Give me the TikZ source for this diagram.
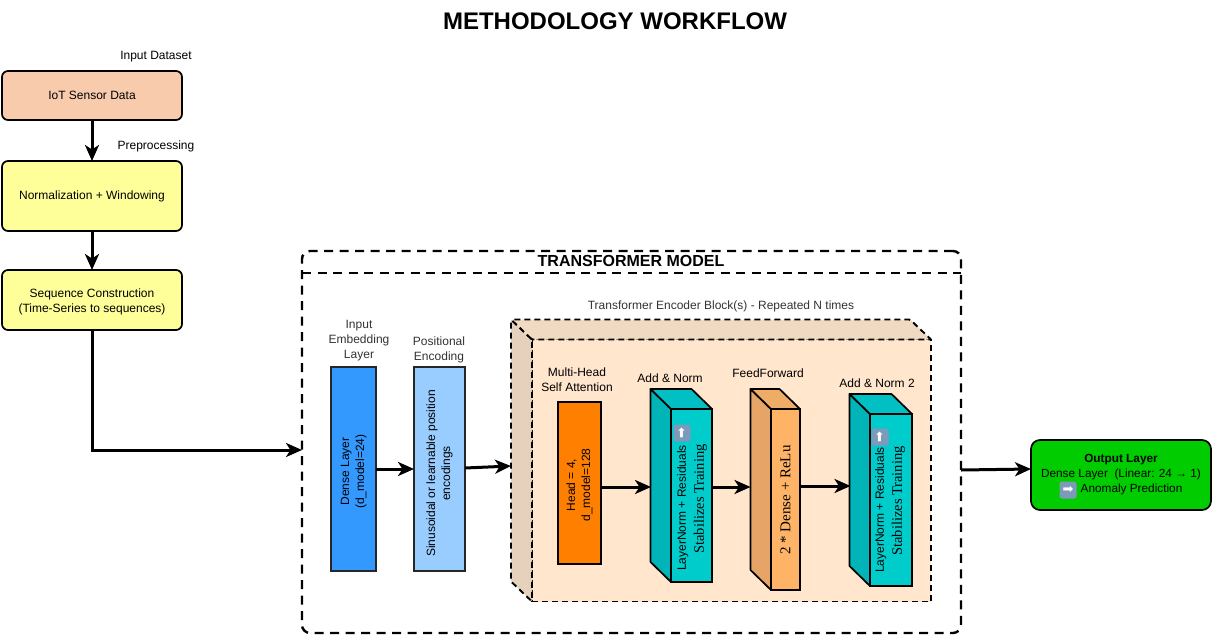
\documentclass[tikz,border=0pt]{standalone}
\usepackage{fontspec}
\setmainfont{Liberation Sans}
\newfontfamily\timesfont{Liberation Serif}
\newfontfamily\symbolfont{DejaVu Sans}
\usetikzlibrary{positioning,arrows.meta}

\definecolor{inputpeach}{HTML}{F8CBAD}
\definecolor{prepyellow}{HTML}{FFFF99}
\definecolor{densedark}{HTML}{3399FF}
\definecolor{poslight}{HTML}{99CCFF}
\definecolor{headorange}{HTML}{FF8000}
\definecolor{blockfront}{HTML}{FFE6CC}
\definecolor{blockside}{HTML}{E6D2BC}
\definecolor{blocktop}{HTML}{F0DAC2}
\definecolor{tealfront}{HTML}{00CCCC}
\definecolor{tealside}{HTML}{00B4B8}
\definecolor{tealtop}{HTML}{00C0C4}
\definecolor{ffront}{HTML}{FFB366}
\definecolor{ffside}{HTML}{E6A566}
\definecolor{fftop}{HTML}{EFAC66}
\definecolor{outgreen}{HTML}{00CC00}
\definecolor{iconblue}{HTML}{7D9ABB}
\definecolor{greylabel}{HTML}{333333}

\newcommand{\vlabel}[2][0pt]{\rotatebox{90}{\begin{tabular}{@{}c@{}}#2\end{tabular}\hspace*{#1}}}

\begin{document}
\begin{tikzpicture}[
  x=1pt,y=-1pt,
  every node/.style={outer sep=0pt,inner sep=0pt,font=\fontsize{12}{15}\selectfont},
  stagebox/.style={draw,line width=1.7pt,rounded corners=6pt,minimum width=180pt,align=center},
  layerbox/.style={draw=black!85,line width=1.7pt,minimum height=204pt},
  slab/.style={draw,line width=1.7pt},
  caption/.style={align=center,text=greylabel},
  tag/.style={align=center},
  icon/.style={fill=iconblue,rounded corners=2.5pt,minimum size=17pt,text=white,font=\symbolfont\fontsize{13}{13}\selectfont},
  flow/.style={line width=3pt,-{Stealth[length=16pt,width=14pt,inset=4.5pt]}},
  modelline/.style={line width=2.4pt,dash pattern=on 9pt off 6.5pt},
  blockline/.style={line width=1.9pt,dash pattern=on 6pt off 4pt},
]
  \useasboundingbox (0,0) rectangle (1212,635);

  % Title
  \node[font=\bfseries\fontsize{24}{28}\selectfont] (title) at (615,21) {METHODOLOGY WORKFLOW};

  % Data preparation
  \node[tag] (inputtag) at (156,56.5) {Input Dataset};
  \node[stagebox,fill=inputpeach,minimum height=49pt] (iot) at (92,95.5) {IoT Sensor Data};
  \node[tag] (preptag) at (156,146) {Preprocessing};
  \node[stagebox,fill=prepyellow,minimum height=70pt] (norm) at (92,196) {Normalization + Windowing};
  \node[stagebox,fill=prepyellow,minimum height=60pt] (seq) at (92,300) {\rule{0pt}{13pt}Sequence Construction\\(Time-Series to sequences)};

  % Transformer frame
  \node[draw,modelline,rounded corners=8pt,minimum width=659pt,minimum height=382pt] (model) at (631.5,442) {};
  \draw[modelline] (302,273) coordinate (dividerL) -- (961,273) coordinate (dividerR);
  \node[font=\bfseries\fontsize{16}{18}\selectfont] (modeltitle) at (631,261) {TRANSFORMER MODEL};
  \coordinate (modelin) at (302,450);
  \coordinate (modelout) at (961,470);

  % Input layers
  \node[caption] (embedtag) at (359,341) {Input\\Embedding\\Layer};
  \node[caption] (postag) at (439,350) {Positional\\Encoding};
  \node[layerbox,fill=densedark,minimum width=45pt] (dense) at (353.5,469) {\vlabel[5pt]{Dense Layer\\(d\_model=24)}};
  \node[layerbox,fill=poslight,minimum width=51pt] (pos) at (439.5,469) {\vlabel[9pt]{Sinusoidal or learnable position\\encodings}};

  % Encoder block
  \node[caption] (blocktag) at (721,306) {Transformer Encoder Block(s) - Repeated N times};
  \node[blockline,draw,fill=blockfront,minimum width=399pt,minimum height=262pt] (block) at (731.5,470.5) {};
  \draw[blockline,fill=blockside,rounded corners=1pt] (block.north west) -- ++(-21,-20) -- ++(0,262) -- (block.south west) -- cycle;
  \draw[blockline,fill=blocktop,rounded corners=1pt] (block.north west) -- ++(-21,-20) -- ++(399,0) -- (block.north east) -- cycle;
  \coordinate (blockin) at (511,466);

  \node[tag] (headtag) at (577,380) {Multi-Head\\Self Attention};
  \node[tag] (addtag) at (670,378) {Add \& Norm};
  \node[tag] (fftag) at (768,373) {FeedForward};
  \node[tag] (add2tag) at (877,383) {Add \& Norm 2};

  \node[slab,fill=headorange,minimum width=43pt,minimum height=162pt] (head) at (579.5,483) {\vlabel[4pt]{Head = 4,\\d\_model=128}};
  \node[slab,fill=tealfront,minimum width=41pt,minimum height=173pt] (addnorm) at (691.5,495.5) {};
  \node[slab,fill=ffront,minimum width=29pt,minimum height=181pt] (ff) at (785.5,499.5) {};
  \node[slab,fill=tealfront,minimum width=42pt,minimum height=172pt] (addnormb) at (891,500) {};

  % Slab faces
  \foreach \slabname/\sidecol/\topcol in {addnorm/tealside/tealtop,ff/ffside/fftop,addnormb/tealside/tealtop} {
    \draw[slab,line join=round,fill=\sidecol] (\slabname.north west) -- ++(-20.5,-20) -- ([xshift=-20.5pt,yshift=20pt]\slabname.south west) -- (\slabname.south west) -- cycle;
    \draw[slab,line join=round,fill=\topcol] (\slabname.north west) -- ++(-20.5,-20) -- ([xshift=-20.5pt,yshift=20pt]\slabname.north east) -- (\slabname.north east) -- cycle;
  }
  \coordinate (addnormin) at (651,487);
  \coordinate (ffin) at (750.5,487);
  \coordinate (addnormbin) at (850.5,486);

  % Slab texts
  \node[rotate=90,align=center] (addnormtxt) at (692,499) {LayerNorm + Residuals\hspace*{18pt}\\[3pt]{\timesfont\fontsize{14.5}{15}\selectfont Stabilizes Training}};
  \node[icon,rotate=90] (addnormicon) at (682,433) {➡};
  \node[rotate=90,font=\timesfont\fontsize{15}{15}\selectfont] (fftxt) at (785.5,500) {2 * Dense + ReLu};
  \node[rotate=90,align=center] (addnormbtxt) at (890,501) {LayerNorm + Residuals\hspace*{18pt}\\[3pt]{\timesfont\fontsize{14.5}{15}\selectfont Stabilizes Training}};
  \node[icon,rotate=90] (addnormbicon) at (880,437) {➡};

  % Output
  \node[stagebox,fill=outgreen,rounded corners=9pt,minimum width=180pt,minimum height=70pt,font=\fontsize{11.8}{15}\selectfont] (outlayer) at (1121,475) {\textbf{Output Layer}\\Dense Layer\ \ (Linear: 24 → 1)\\\hspace*{21pt}Anomaly Prediction};
  \node[icon] (outicon) at (1068,490) {➡};
  \coordinate (outin) at (1031,469);

  % Edges: preparation
  \draw[flow] (iot) -- (norm);
  \draw[flow] (norm) -- (seq);
  \draw[flow] (seq.south) |- (modelin);

  % Edges: model
  \draw[flow] (dense.east|-0,469) -- (pos.west|-0,469);
  \draw[flow] (pos.east|-0,468) -- (blockin);
  \draw[flow] (head.east|-addnormin) -- (addnormin);
  \draw[flow] (addnorm.east|-ffin) -- (ffin);
  \draw[flow] (ff.east|-addnormbin) -- (addnormbin);
  \draw[flow] (modelout) -- (outin);
\end{tikzpicture}
\end{document}
